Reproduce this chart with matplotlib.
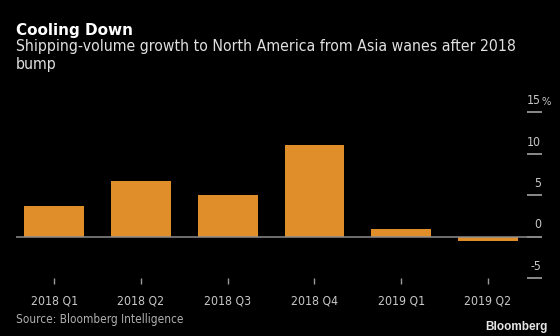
import matplotlib
matplotlib.use('Agg')
import matplotlib.pyplot as plt
import matplotlib.transforms as mtransforms

# data (% growth)
quarters = ['2018 Q1', '2018 Q2', '2018 Q3', '2018 Q4', '2019 Q1', '2019 Q2']
growth = [3.65, 6.65, 5.0, 11.0, 0.95, -0.5]
yticks = [-5, 0, 5, 10, 15]
ytick_labels = ['-5', '0', '5', '10', '15']

BG = '#000000'
BAR = '#e08e29'
NARROW = dict(fontfamily='DejaVu Sans', fontstretch='condensed')

fig = plt.figure(figsize=(5.6, 3.36), dpi=100, facecolor=BG)
ax = fig.add_axes([16/560, 1 - 278/336, (527 - 16)/560, (278 - 112)/336])
ax.set_facecolor(BG)

x = list(range(len(quarters)))
ax.bar(x, growth, width=0.69, color=BAR, zorder=2)
ax.axhline(0, color='#8c8c8c', lw=1.1, zorder=3)

ax.set_xlim(-0.44, 5.45)
ax.set_ylim(-5, 15)

for s in ax.spines.values():
    s.set_visible(False)

# x axis
ax.set_xticks(x)
ax.set_xticklabels(quarters, fontsize=8.8, color='#c8c8c8', **NARROW)
ax.tick_params(axis='x', direction='out', length=4, width=1, color='#9a9a9a', pad=8)

# y axis: tick lines on the right, labels sitting above them
ax.yaxis.tick_right()
ax.set_yticks(yticks)
ax.set_yticklabels([''] * len(yticks))
ax.tick_params(axis='y', direction='out', length=10.5, width=1.1, color='#b0b0b0', pad=0)

trans = mtransforms.blended_transform_factory(ax.transAxes, ax.transData)
off = mtransforms.ScaledTranslation(14/100, 5/100, fig.dpi_scale_trans)
for v, lab in zip(yticks, ytick_labels):
    ax.text(1.0, v, lab, transform=trans + off, ha='right', va='bottom',
            fontsize=8.8, color='#c8c8c8', **NARROW)
    if v == yticks[-1]:
        ax.text(1.0, v, '%', transform=trans + off, ha='left', va='bottom',
                fontsize=8, color='#c8c8c8', **NARROW)

# titles
fig.text(16/560, 1 - 30/336, 'Cooling Down', fontsize=11, fontweight='bold',
         color='white', va='center', ha='left')
fig.text(16/560, 1 - 47/336, 'Shipping-volume growth to North America from Asia wanes after 2018',
         fontsize=11.3, color='#e0e0e0', va='center', ha='left', **NARROW)
fig.text(16/560, 1 - 65/336, 'bump', fontsize=11.3, color='#e0e0e0', va='center', ha='left',
         **NARROW)

# footer
fig.text(16/560, 1 - 320/336, 'Source: Bloomberg Intelligence',
         fontsize=8.5, color='#b0b0b0', va='center', ha='left', **NARROW)
fig.text(548/560, 1 - 327/336, 'Bloomberg', fontfamily=['Liberation Sans', 'DejaVu Sans'],
         fontsize=8.5, fontweight='bold', color='#e6e6e6', va='center', ha='right')

fig.savefig('out.png', dpi=100, facecolor=BG)
